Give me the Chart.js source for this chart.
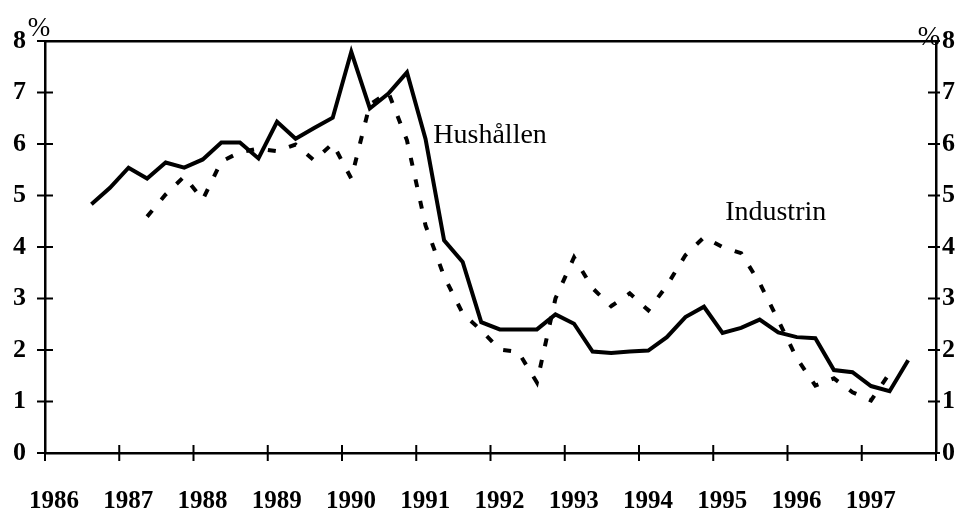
<!DOCTYPE html>
<html>
<head>
<meta charset="utf-8">
<script src="https://cdn.jsdelivr.net/npm/chart.js@4.4.0/dist/chart.umd.min.js"></script>
<style>
    body { margin: 0; background: #fff; }
    #wrap { width: 968px; height: 514px; }
</style>
</head>
<body>
<div id="wrap"><canvas id="rate-chart" width="968" height="514"></canvas></div>
<script>
// quarters (year:quarter), plotted at the middle of each quarter
const quarters = [
    "1986:3", "1986:4",
    "1987:1", "1987:2", "1987:3", "1987:4",
    "1988:1", "1988:2", "1988:3", "1988:4",
    "1989:1", "1989:2", "1989:3", "1989:4",
    "1990:1", "1990:2", "1990:3", "1990:4",
    "1991:1", "1991:2", "1991:3", "1991:4",
    "1992:1", "1992:2", "1992:3", "1992:4",
    "1993:1", "1993:2", "1993:3", "1993:4",
    "1994:1", "1994:2", "1994:3", "1994:4",
    "1995:1", "1995:2", "1995:3", "1995:4",
    "1996:1", "1996:2", "1996:3", "1996:4",
    "1997:1", "1997:2", "1997:3"
];

// Hushållen, % (solid)
const hushallen = [
    4.83, 5.15,
    5.54, 5.33, 5.64, 5.54,
    5.70, 6.03, 6.03, 5.72,
    6.43, 6.10, 6.31, 6.51,
    7.79, 6.69, 6.98, 7.39,
    6.10, 4.13, 3.71, 2.54,
    2.40, 2.40, 2.40, 2.69,
    2.51, 1.97, 1.94, 1.97,
    1.99, 2.25, 2.64, 2.84,
    2.33, 2.43, 2.59, 2.34,
    2.25, 2.23, 1.61, 1.57,
    1.30, 1.20, 1.80
];

// Industrin, % (dashed) - no values for the first three quarters and the last one
const industrin = [
    null, null,
    null, 4.59, 5.02, 5.37,
    4.92, 5.66, 5.84, 5.91,
    5.86, 5.99, 5.68, 6.01,
    5.33, 6.77, 7.00, 6.07,
    4.42, 3.43, 2.71, 2.38,
    2.01, 1.96, 1.37, 3.00,
    3.80, 3.20, 2.85, 3.10,
    2.77, 3.25, 3.84, 4.19,
    4.00, 3.88, 3.30, 2.58,
    1.84, 1.31, 1.45, 1.18,
    1.02, 1.55, null
];

const yearTicks = [1986, 1987, 1988, 1989, 1990, 1991, 1992, 1993, 1994, 1995, 1996, 1997, 1998];
const yearLabels = ["1986", "1987", "1988", "1989", "1990", "1991", "1992", "1993", "1994", "1995", "1996", "1997", ""];
const percentTicks = [0, 1, 2, 3, 4, 5, 6, 7, 8];

// series names written next to the lines, anchored at (year, %)
const seriesNames = ["Hushållen", "Industrin"];
const nameAnchors = [[1991.23, 6.01], [1995.16, 4.52]];

function quarterToYear(q) {
    const parts = q.split(":");
    return Number(parts[0]) + (Number(parts[1]) - 0.5) / 4;
}

function toPoints(values) {
    const pts = [];
    values.forEach((v, i) => {
        if (v !== null) pts.push({ x: quarterToYear(quarters[i]), y: v });
    });
    return pts;
}

const serif = '"Liberation Serif", "Times New Roman", serif';

// crossing tick marks, the % signs and the series names
const decorations = {
    id: "decorations",
    afterDraw(chart) {
        const ctx = chart.ctx;
        const area = chart.chartArea;
        const x = chart.scales.x;
        const y = chart.scales.y;
        ctx.save();
        ctx.strokeStyle = "#000";
        ctx.lineWidth = 2;
        ctx.beginPath();
        percentTicks.forEach(v => {
            const py = y.getPixelForValue(v);
            ctx.moveTo(area.left - 8, py);
            ctx.lineTo(area.left + 8, py);
            ctx.moveTo(area.right - 8, py);
            ctx.lineTo(area.right + 4, py);
        });
        yearTicks.forEach(v => {
            const px = x.getPixelForValue(v);
            ctx.moveTo(px, area.bottom - 8);
            ctx.lineTo(px, area.bottom + 8);
        });
        ctx.stroke();

        ctx.fillStyle = "#000";
        ctx.textBaseline = "middle";
        ctx.textAlign = "center";
        ctx.font = "27px " + serif;
        ctx.fillText("%", area.left - 6, area.top - 12);
        ctx.fillText("%", area.right - 7, area.top - 3);

        ctx.textBaseline = "alphabetic";
        ctx.textAlign = "left";
        ctx.font = "28px " + serif;
        seriesNames.forEach((name, i) => {
            const a = nameAnchors[i];
            ctx.fillText(name, x.getPixelForValue(a[0]), y.getPixelForValue(a[1]));
        });
        ctx.restore();
    }
};

const axisBorder = { display: true, color: "#000", width: 2.5 };
const noGrid = { display: false, drawTicks: false };

new Chart(document.getElementById("rate-chart"), {
    type: "line",
    data: {
        datasets: [{
            label: seriesNames[0],
            data: toPoints(hushallen),
            borderColor: "#000",
            borderWidth: 4,
            pointRadius: 0,
            tension: 0
        }, {
            label: seriesNames[1],
            data: toPoints(industrin),
            borderColor: "#000",
            borderWidth: 4,
            borderDash: [8, 14],
            pointRadius: 0,
            tension: 0
        }]
    },
    options: {
        responsive: false,
        animation: false,
        layout: { padding: 0 },
        plugins: {
            legend: { display: false },
            tooltip: { enabled: false }
        },
        scales: {
            x: {
                type: "linear",
                position: "bottom",
                min: 1986,
                max: 1998,
                afterBuildTicks: s => { s.ticks = yearTicks.map(v => ({ value: v })); },
                afterFit: s => { s.height = 61; s.paddingLeft = 0; s.paddingRight = 0; },
                grid: noGrid,
                border: axisBorder,
                ticks: {
                    autoSkip: false,
                    maxRotation: 0,
                    labelOffset: 9,
                    padding: 34,
                    color: "#000",
                    font: { family: serif, size: 25, weight: "bold" },
                    callback: (v, i) => yearLabels[i]
                }
            },
            xTop: {
                type: "linear",
                position: "top",
                min: 1986,
                max: 1998,
                afterFit: s => { s.height = 41; s.paddingLeft = 0; s.paddingRight = 0; },
                grid: noGrid,
                border: axisBorder,
                ticks: { display: false }
            },
            y: {
                position: "left",
                min: 0,
                max: 8,
                afterBuildTicks: s => { s.ticks = percentTicks.map(v => ({ value: v })); },
                afterFit: s => { s.width = 45; s.paddingTop = 0; s.paddingBottom = 0; },
                grid: noGrid,
                border: axisBorder,
                ticks: {
                    padding: 19,
                    color: "#000",
                    font: { family: serif, size: 26, weight: "bold" }
                }
            },
            y2: {
                position: "right",
                min: 0,
                max: 8,
                afterBuildTicks: s => { s.ticks = percentTicks.map(v => ({ value: v })); },
                afterFit: s => { s.width = 32; s.paddingTop = 0; s.paddingBottom = 0; },
                grid: noGrid,
                border: axisBorder,
                ticks: {
                    padding: 6,
                    color: "#000",
                    font: { family: serif, size: 26, weight: "bold" }
                }
            }
        }
    },
    plugins: [decorations]
});
</script>
</body>
</html>
